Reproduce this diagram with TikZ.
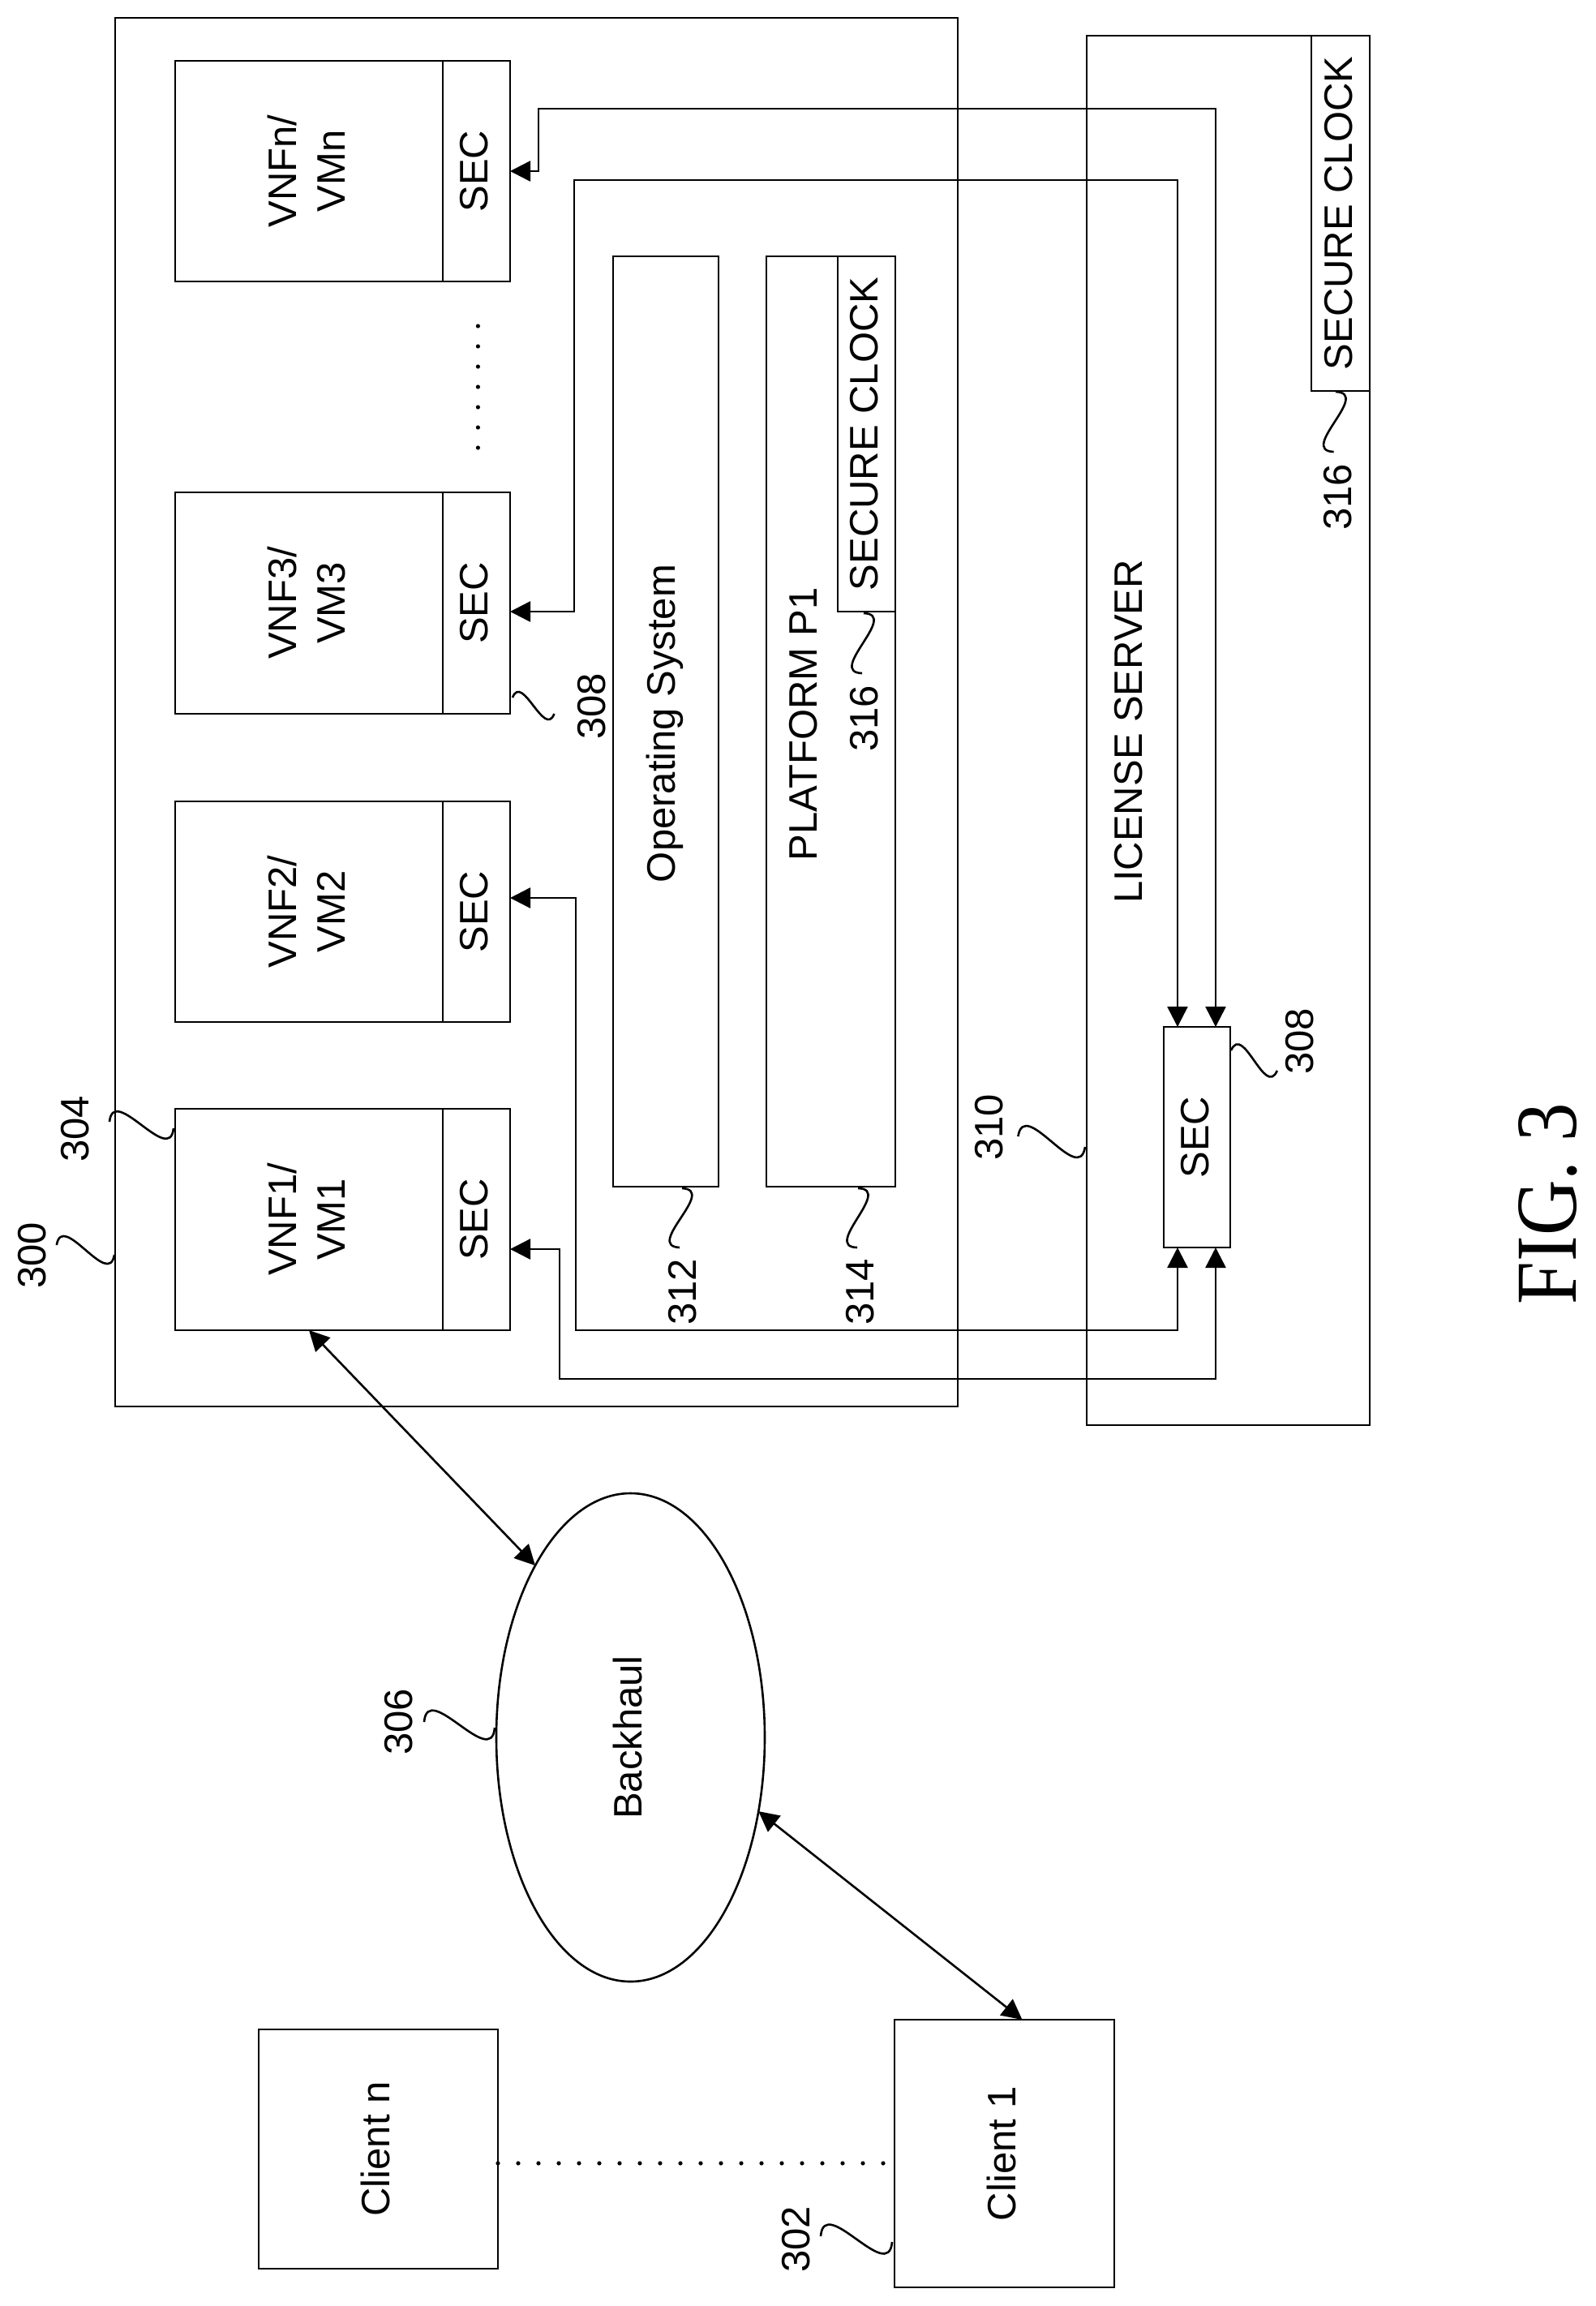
\documentclass[tikz,border=0pt]{standalone}
\usepackage{fontspec}
\usepackage{graphicx}
\setmainfont{Liberation Sans}
\newfontfamily\figfont{Liberation Serif}
\usetikzlibrary{arrows.meta, calc, shapes.geometric}

\newcommand{\vtext}[1]{\rotatebox{90}{\begin{tabular}{@{}c@{}}\rule{0pt}{23pt}#1\end{tabular}}}
\newcommand{\leadline}[2]{\draw[leadstroke] (#1) .. controls ($(#1)!0.6!90:(#2)$) and ($(#2)!0.6!90:(#1)$) .. (#2);}

\tikzset{
    every node/.style={font=\fontsize{24.5}{30}\selectfont},
    boxnode/.style={draw, line width=1.4pt, inner sep=0pt, outer sep=0pt},
    numlabel/.style={rotate=90, inner sep=0pt},
    textlabel/.style={rotate=90, inner sep=0pt},
    conn/.style={line width=1.3pt, {Triangle[length=12.5pt,width=12.5pt]}-{Triangle[length=12.5pt,width=12.5pt]}},
    leadstroke/.style={line width=1.3pt},
    dotline/.style={line width=2.6pt, line cap=round, dash pattern=on 0pt off 12.5pt}
}

\begin{document}
\begin{tikzpicture}[x=1pt, y=-1pt]
    \useasboundingbox (0,0) rectangle (984,1421.5);

    % Platform frame and license server frame
    \node[boxnode, minimum width=519.5, minimum height=856] (platformframe) at (330.75,439) {};
    \node[boxnode, minimum width=174.5, minimum height=856.5] (licenseframe) at (757.25,450.25) {};
    \node[textlabel] (licensetext) at (696,451) {LICENSE SERVER};

    % VNF boxes
    \node[boxnode, minimum width=165, minimum height=136] (vnfn) at (190.5,105.5) {\vtext{VNFn/\\VMn}};
    \node[boxnode, minimum width=41.5, minimum height=136] (vnfnsec) at (293.75,105.5) {\vtext{SEC}};
    \node[boxnode, minimum width=165, minimum height=136.5] (vnfthree) at (190.5,371.75) {\vtext{VNF3/\\VM3}};
    \node[boxnode, minimum width=41.5, minimum height=136.5] (vnfthreesec) at (293.75,371.75) {\vtext{SEC}};
    \node[boxnode, minimum width=165, minimum height=136] (vnftwo) at (190.5,562) {\vtext{VNF2/\\VM2}};
    \node[boxnode, minimum width=41.5, minimum height=136] (vnftwosec) at (293.75,562) {\vtext{SEC}};
    \node[boxnode, minimum width=165, minimum height=136.5] (vnfone) at (190.5,751.75) {\vtext{VNF1/\\VM1}};
    \node[boxnode, minimum width=41.5, minimum height=136.5] (vnfonesec) at (293.75,751.75) {\vtext{SEC}};

    % Operating system and platform
    \node[boxnode, minimum width=65, minimum height=573.5] (opsys) at (410.5,444.75) {};
    \node[textlabel] (opsystext) at (410,446) {Operating System};
    \node[boxnode, minimum width=79.5, minimum height=573.5] (platform) at (512.25,444.75) {};
    \node[textlabel] (platformtext) at (495.5,446.5) {PLATFORM P1};
    \node[boxnode, minimum width=35.5, minimum height=219] (clockp) at (534.25,267.5) {\vtext{SECURE CLOCK}};

    % License server parts
    \node[boxnode, minimum width=36, minimum height=219] (clockl) at (826.5,131.5) {\vtext{SECURE CLOCK}};
    \node[boxnode, minimum width=41, minimum height=136] (secbig) at (738,701) {\vtext{SEC}};

    % Backhaul and clients
    \node[draw, ellipse, line width=1.3pt, inner sep=0pt, outer sep=0pt, minimum width=165.5, minimum height=301] (backhaul) at (388.75,1071) {\vtext{Backhaul}};
    \node[boxnode, minimum width=147.5, minimum height=147.5] (clientn) at (233.25,1324.75) {\vtext{Client n}};
    \node[boxnode, minimum width=135.5, minimum height=165] (clientone) at (619.25,1327.5) {\vtext{Client 1}};

    % Secure links between the SEC boxes
    \coordinate (bendna) at (749.5,67);
    \coordinate (bendnb) at (332,67);
    \draw[conn] ([xshift=11.5pt]secbig.north) -- (bendna) -- (bendnb) |- (vnfnsec.east);
    \coordinate (bendta) at (726,111);
    \coordinate (bendtb) at (354,111);
    \draw[conn] ([xshift=-12pt]secbig.north) -- (bendta) -- (bendtb) |- ([yshift=-5.25pt]vnfthreesec.east);
    \coordinate (bendsa) at (726,820);
    \coordinate (bendsb) at (355,820);
    \draw[conn] ([xshift=-12pt]secbig.south) -- (bendsa) -- (bendsb) |- ([yshift=8.5pt]vnftwosec.east);
    \coordinate (bendoa) at (749.5,850);
    \coordinate (bendob) at (345,850);
    \draw[conn] ([xshift=11.5pt]secbig.south) -- (bendoa) -- (bendob) |- ([yshift=-18.25pt]vnfonesec.east);

    % Backhaul links
    \draw[conn] (vnfone.south) -- (backhaul.119.5);
    \draw[conn] (backhaul.-30) -- ([xshift=11pt]clientone.north);

    % Dotted gaps
    \draw[dotline] ([yshift=-8.75pt]clientn.east) -- ([yshift=-6pt]clientone.west);
    \coordinate (dotstart) at (294.7,201);
    \coordinate (dotend) at (294.7,277);
    \draw[dotline] (dotstart) -- (dotend);

    % Reference numerals
    \node[numlabel] (num300) at (20,774) {300};
    \node[numlabel] (num304) at (46.2,696) {304};
    \node[numlabel] (num308a) at (365,435.5) {308};
    \node[numlabel] (num312) at (421,796.5) {312};
    \node[numlabel] (num314) at (530.3,796.5) {314};
    \node[numlabel] (num316a) at (533,443) {316};
    \node[numlabel] (num316b) at (824.7,306.5) {316};
    \node[numlabel] (num310) at (610,695) {310};
    \node[numlabel] (num308b) at (801.5,642) {308};
    \node[numlabel] (num306) at (245.7,1061.5) {306};
    \node[numlabel] (num302) at (491,1380.5) {302};
    \node[rotate=90, xscale=0.886, inner sep=0pt, font=\figfont\fontsize{53.6}{60}\selectfont] (figlabel) at (954.5,742) {FIG. 3};

    % Wavy leaders
    \coordinate (a300) at (70.5,773.5);
    \coordinate (b300) at (34.9,767.5);
    \leadline{a300}{b300}
    \coordinate (a304) at (107,695.5);
    \coordinate (b304) at (67.5,691.5);
    \leadline{a304}{b304}
    \coordinate (a308) at (316,430);
    \coordinate (b308) at (341.7,440);
    \leadline{a308}{b308}
    \coordinate (a312) at (420.5,732.5);
    \coordinate (b312) at (419,769);
    \leadline{a312}{b312}
    \coordinate (a314) at (529,732.5);
    \coordinate (b314) at (528.5,769);
    \leadline{a314}{b314}
    \coordinate (a316) at (532.5,378);
    \coordinate (b316) at (531.5,415);
    \leadline{a316}{b316}
    \coordinate (c316) at (823.5,241.5);
    \coordinate (d316) at (822.3,278.5);
    \leadline{c316}{d316}
    \coordinate (a310) at (669,707);
    \coordinate (b310) at (627.7,700.5);
    \leadline{a310}{b310}
    \coordinate (c308) at (759,647.5);
    \coordinate (d308) at (787.4,660);
    \leadline{c308}{d308}
    \coordinate (a306) at (305,1065);
    \coordinate (b306) at (261.5,1061.5);
    \leadline{a306}{b306}
    \coordinate (a302) at (550,1382);
    \coordinate (b302) at (506,1378.5);
    \leadline{a302}{b302}
\end{tikzpicture}
\end{document}
